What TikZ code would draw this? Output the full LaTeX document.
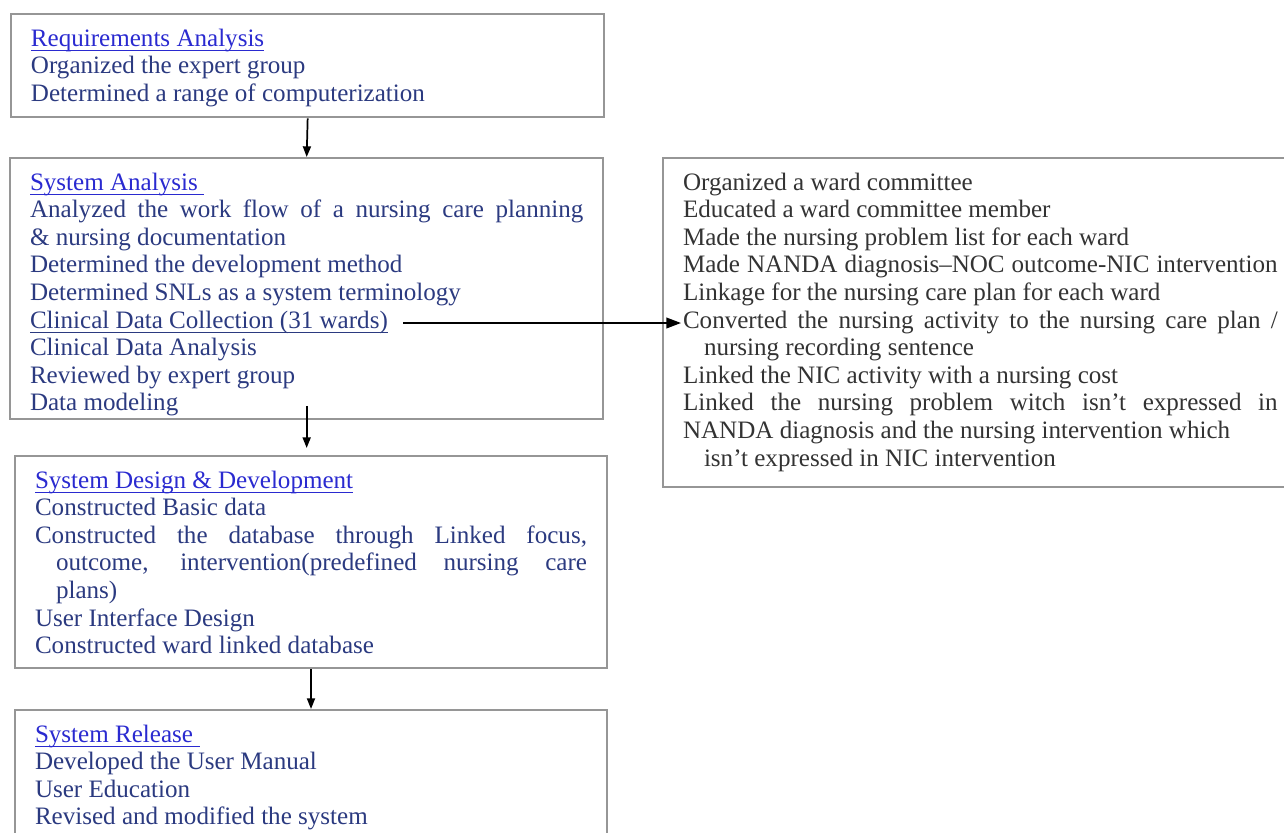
\documentclass[tikz,border=0pt]{standalone}
\usepackage{fontspec}
\setmainfont{Liberation Serif}
\usepackage{xcolor}
\usetikzlibrary{arrows.meta}
\definecolor{navy}{RGB}{43,58,128}
\definecolor{linkblue}{RGB}{42,42,208}
\definecolor{frame}{RGB}{150,150,150}
\definecolor{ink}{RGB}{51,51,51}
\newsavebox{\ulbox}
\newcommand{\ulined}[1]{\sbox{\ulbox}{#1}\rlap{\rule[-3.6pt]{\wd\ulbox}{0.8pt}}\usebox{\ulbox}}
\newcommand{\stagehead}[1]{{\color{linkblue}\ulined{#1}}}
\newcommand{\fullline}[1]{\makebox[\linewidth][s]{#1}}
\newcommand{\indline}[1]{\hspace*{15.75pt}#1}
\newcommand{\indfull}[1]{\hspace*{15.75pt}\makebox[\dimexpr\linewidth-15.75pt\relax][s]{#1}}
\newcommand{\stagebody}[3]{\parbox[c][#1][t]{#2}{\strut #3}}

\begin{document}
\begin{tikzpicture}[x=1pt, y=-1pt,
      every node/.style={font=\fontsize{18.8}{20.7}\selectfont},
      stage/.style={draw=frame, line width=1.5pt, anchor=north west,
                    inner xsep=15pt, inner ysep=9.6pt, text=navy},
      flow/.style={-{Triangle[length=8pt,width=6pt]}, line width=1.3pt},
      link/.style={-{Triangle[length=11pt,width=8pt]}, line width=1.3pt}]
    \useasboundingbox (0,0) rectangle (963,624);

    % the four stages
    \node[stage] (req) at (7.5,9.75) {\stagebody{58.3pt}{415pt}{%
      \stagehead{Requirements Analysis}\\
      Organized the expert group\\
      Determined a range of computerization}};
    \node[stage] (ana) at (6.75,117.75) {\stagebody{176.5pt}{415pt}{%
      \stagehead{System Analysis\hspace{5pt}}\\
      \fullline{Analyzed the work flow of a nursing care planning}\\
      \& nursing documentation\\
      Determined the development method\\
      Determined SNLs as a system terminology\\
      \ulined{Clinical Data Collection (31 wards)}\\
      Clinical Data Analysis\\
      Reviewed by expert group\\
      Data modeling}};
    \node[stage] (des) at (10.5,341.25) {\stagebody{139.8pt}{414pt}{%
      \stagehead{System Design \& Development}\\
      Constructed Basic data\\
      \fullline{Constructed the database through Linked focus,}\\
      \indfull{outcome, intervention(predefined nursing care}\\
      \indline{plans)}\\
      User Interface Design\\
      Constructed ward linked database}};
    \node[stage] (rel) at (10.5,531.75) {\stagebody{100pt}{414pt}{%
      \stagehead{System Release\hspace{5pt}}\\
      Developed the User Manual\\
      User Education\\
      Revised and modified the system}};

    % ward level work
    \node[stage, text=ink] (act) at (496.5,117.75) {\stagebody{227.5pt}{446pt}{%
      Organized a ward committee\\
      Educated a ward committee member\\
      Made the nursing problem list for each ward\\
      \fullline{Made NANDA diagnosis--NOC outcome-NIC intervention}\\
      Linkage for the nursing care plan for each ward\\
      \fullline{Converted the nursing activity to the nursing care plan /}\\
      \indline{nursing recording sentence}\\
      Linked the NIC activity with a nursing cost\\
      \fullline{Linked the nursing problem witch isn't expressed in}\\
      NANDA diagnosis and the nursing intervention which\\
      \indline{isn't expressed in NIC intervention}}};

    \draw[flow] (req.south) -- (ana.north);
    \coordinate (dtop) at (ana.south |- des.north);
    \draw[flow] ([yshift=10.5pt]ana.south) -- ([yshift=5.25pt]dtop);
    \draw[flow] (des.south) -- (rel.north);
    \coordinate (clin) at (302.25,242.25);
    \draw[link] (clin) -- ([xshift=14.25pt]clin -| act.west);
\end{tikzpicture}
\end{document}
